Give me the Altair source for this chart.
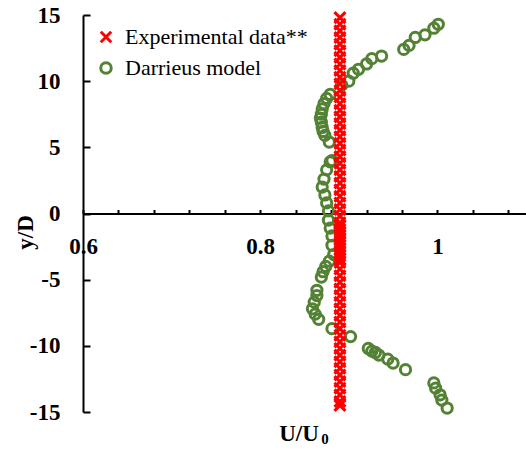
import altair as alt
import pandas as pd

EXP_LABEL = "Experimental data**"
MODEL_LABEL = "Darrieus model"

# Experimental data (all at U/Uo = 0.89)
exp_u = 0.89
exp_y = [14.8, 14.3, 13.8, 13.3, 12.8, 12.3, 11.8, 11.3, 10.8, 10.3, 9.8, 9.3,
         8.8, 8.3, 7.8, 7.3, 6.8, 6.3, 5.8, 5.3, 4.8, 4.3, 3.8, 3.3, 2.8, 2.3,
         1.8, 1.3, 0.8, 0.3, -0.2, -0.7, -0.95, -1.2, -1.45, -1.7, -1.95, -2.2,
         -2.45, -2.7, -2.95, -3.2, -3.45, -3.7, -4.2, -4.7, -5.2, -5.7, -6.2,
         -6.7, -7.2, -7.7, -8.2, -8.7, -9.2, -9.7, -10.2, -10.7, -11.2, -11.7,
         -12.2, -12.7, -13.2, -13.7, -14.2, -14.5]

# Darrieus model
model_u = [1.001, 0.996, 0.986, 0.975, 0.968, 0.962, 0.937, 0.926, 0.920, 0.911,
           0.905, 0.900, 0.892, 0.879, 0.875, 0.872, 0.870, 0.869, 0.868, 0.869,
           0.870, 0.871, 0.873, 0.878, 0.881, 0.879, 0.875, 0.872, 0.870, 0.873,
           0.875, 0.877,
           0.877, 0.879, 0.881, 0.881, 0.883, 0.878, 0.874, 0.871, 0.869, 0.864,
           0.864, 0.861, 0.859, 0.862, 0.866, 0.881, 0.902, 0.922, 0.926, 0.930,
           0.934, 0.944, 0.950, 0.964, 0.996, 0.998, 1.003, 1.005, 1.011]
model_y = [14.3, 14.0, 13.5, 13.3, 12.7, 12.4, 11.9, 11.7, 11.3, 10.9,
           10.6, 10.0, 9.7, 9.0, 8.7, 8.3, 7.9, 7.5, 7.2, 6.9,
           6.5, 6.2, 5.9, 5.4, 4.0, 3.9, 3.3, 2.6, 2.0, 1.4,
           0.8, 0.2,
           -0.5, -1.1, -1.7, -2.4, -3.1, -3.6, -4.0, -4.4, -4.8, -5.8,
           -6.2, -6.7, -7.2, -7.6, -8.0, -8.7, -9.3, -10.2, -10.4, -10.5,
           -10.7, -11.0, -11.3, -11.8, -12.8, -13.2, -13.7, -14.1, -14.7]

x_label_values = [0.6, 0.8, 1.0]
x_tick_values = [0.6, 0.64, 0.68, 0.72, 0.76, 0.8, 0.84, 0.88, 0.92, 0.96,
                 1.0, 1.04, 1.08]
y_values = [-15, -10, -5, 0, 5, 10, 15]

exp_df = pd.DataFrame({"U": [exp_u] * len(exp_y), "y": exp_y, "series": EXP_LABEL})
model_df = pd.DataFrame({"U": model_u, "y": model_y, "series": MODEL_LABEL})

FONT = "Liberation Serif"
X_PATH = "M-1,-1L1,1M-1,1L1,-1"
W, H = 443, 397

xscale = alt.Scale(domain=[0.6, 1.1], nice=False, zero=False)
yscale = alt.Scale(domain=[-15, 15], nice=False, zero=False)

legend = alt.Legend(title=None, orient="none", legendX=12, legendY=11,
                    labelFont=FONT, labelFontSize=22, labelColor="black",
                    labelLimit=400, symbolSize=110, symbolStrokeWidth=3,
                    labelOffset=8, rowPadding=7)
color = alt.Color("series:N",
                  scale=alt.Scale(domain=[EXP_LABEL, MODEL_LABEL],
                                  range=["#ff0000", "#548235"]),
                  legend=legend)
shape = alt.Shape("series:N",
                  scale=alt.Scale(domain=[EXP_LABEL, MODEL_LABEL],
                                  range=[X_PATH, "circle"]),
                  legend=legend)

# Green layer carries the labelled axes
green = alt.Chart(model_df).mark_point(filled=False, size=105, strokeWidth=3, opacity=1).encode(
    x=alt.X("U:Q", scale=xscale,
            axis=alt.Axis(orient="bottom", offset=-H / 2, values=x_label_values,
                          format="~g", ticks=False, domain=False, grid=False,
                          labelFont=FONT, labelFontSize=23, labelFontWeight="bold",
                          labelColor="black", labelPadding=33, labelFlush=False,
                          labelBaseline="middle", title=None)),
    y=alt.Y("y:Q", scale=yscale,
            axis=alt.Axis(orient="left", values=y_values, ticks=False, domain=False,
                          grid=False, labelFont=FONT, labelFontSize=23,
                          labelFontWeight="bold", labelColor="black",
                          labelExpr="'' + datum.value",
                          labelPadding=23, title="y/D", titleFont=FONT,
                          titleFontSize=23, titleFontWeight="bold",
                          titleColor="black", titleAngle=270, titleX=-58,
                          titleY=217, titleAlign="center",
                          titleBaseline="middle")),
    color=color,
    shape=shape,
)

# Red layer carries the axis lines and inward ticks
red = alt.Chart(exp_df).mark_point(filled=False, size=120, strokeWidth=3, opacity=1).encode(
    x=alt.X("U:Q", scale=xscale,
            axis=alt.Axis(orient="top", offset=-H / 2, values=x_tick_values,
                          labels=False, ticks=True, tickSize=4, tickWidth=2,
                          tickColor="black", domain=True, domainWidth=2,
                          domainColor="black", grid=False, title=None)),
    y=alt.Y("y:Q", scale=yscale,
            axis=alt.Axis(orient="right", offset=-W, values=y_values,
                          labels=False, ticks=True, tickSize=7, tickWidth=2,
                          tickColor="black", domain=True, domainWidth=2,
                          domainColor="black", grid=False, title=None)),
    color=color,
    shape=shape,
)

title_main = alt.Chart(pd.DataFrame({"t": ["U/U"]})).mark_text(
    font=FONT, fontSize=23, fontWeight="bold", color="black",
    align="center", baseline="middle"
).encode(text="t:N", x=alt.value(216), y=alt.value(419))

title_sub = alt.Chart(pd.DataFrame({"t": ["0"]})).mark_text(
    font=FONT, fontSize=15, fontWeight="bold", color="black",
    align="center", baseline="middle"
).encode(text="t:N", x=alt.value(242), y=alt.value(424))

chart = alt.layer(green, red, title_main, title_sub).resolve_scale(
    x="shared", y="shared"
).resolve_axis(
    x="independent", y="independent"
).properties(
    width=W, height=H,
    autosize=alt.AutoSizeParams(type="none"),
    padding={"left": 83, "top": 15, "right": 0, "bottom": 40},
).configure(
    font=FONT
).configure_axis(
    labelFont=FONT, titleFont=FONT
).configure_legend(
    labelFont=FONT
).configure_view(stroke=None)

chart.save("out.html", embed_options={"renderer": "svg", "actions": False})
